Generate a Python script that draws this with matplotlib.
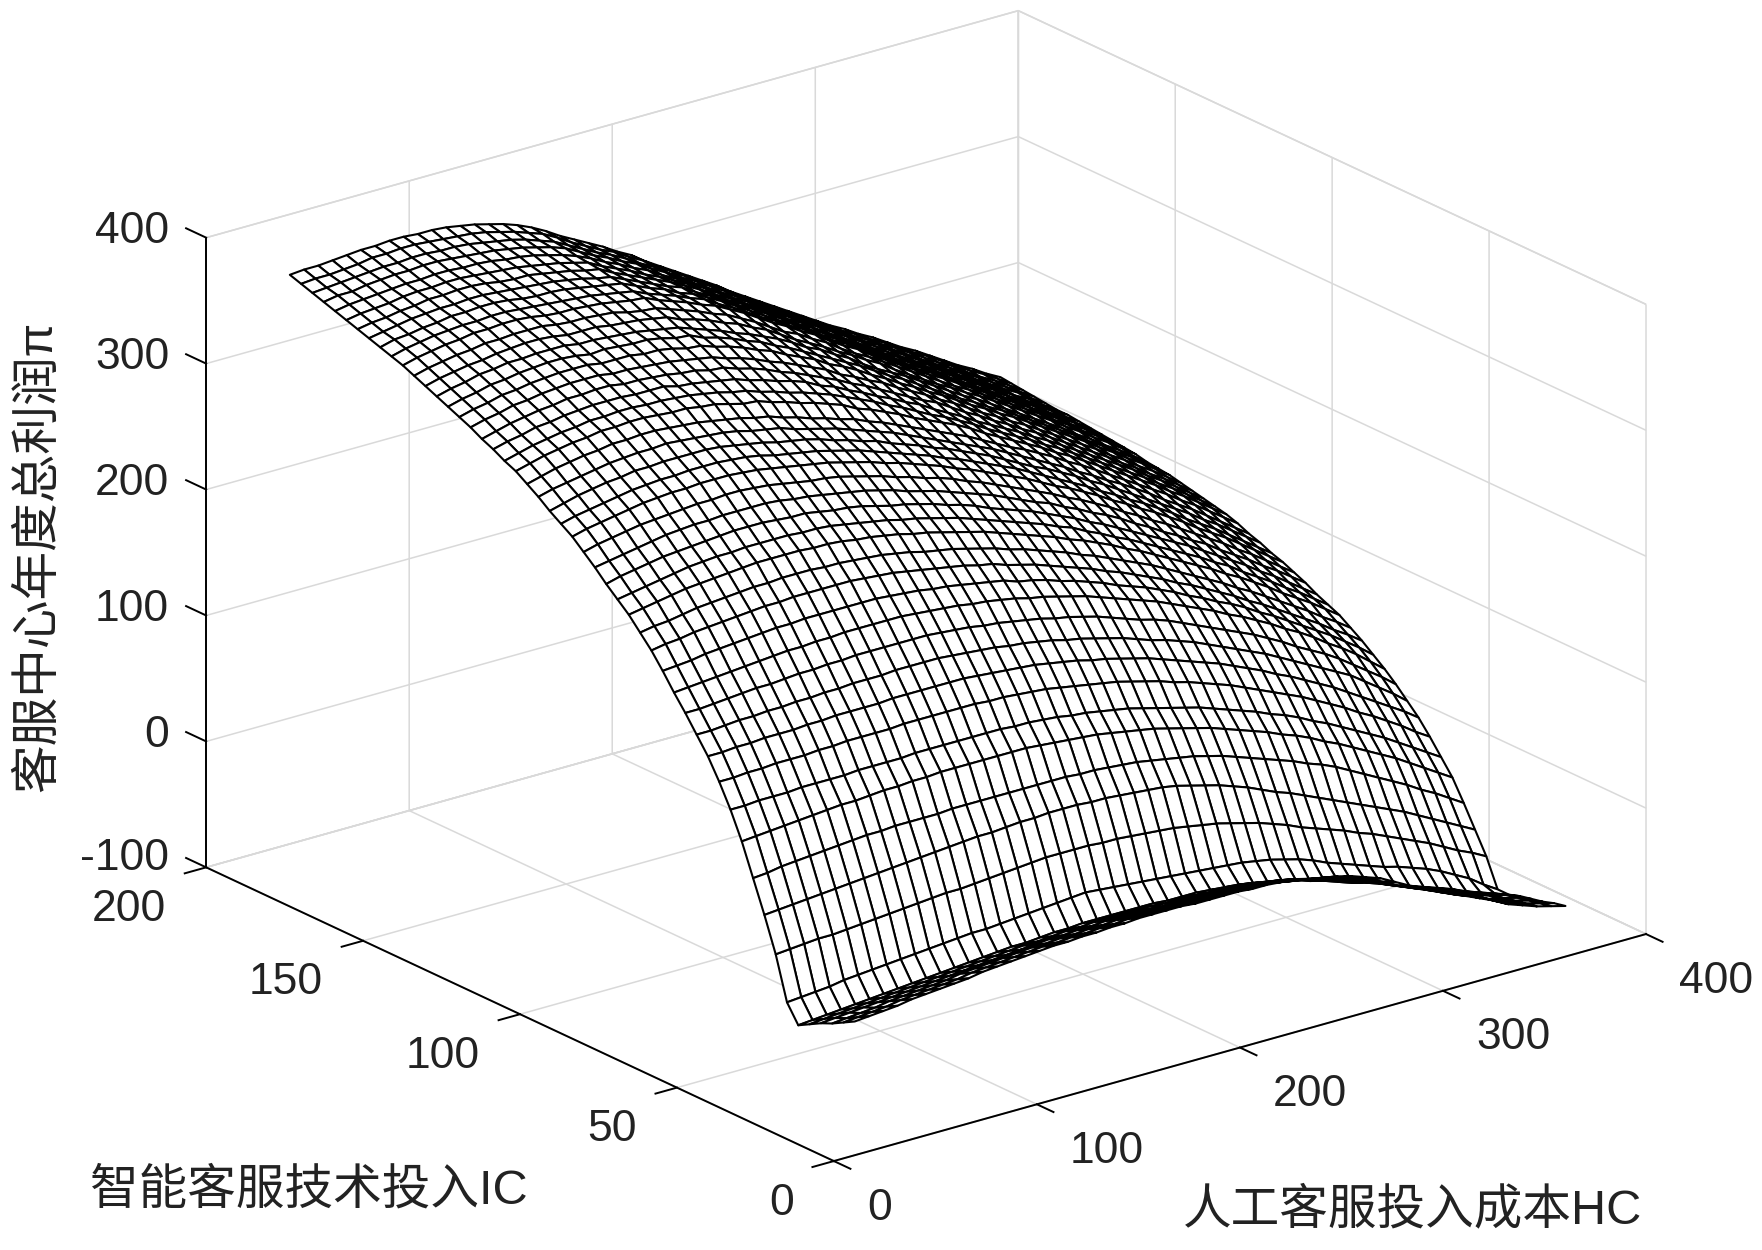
import numpy as np
import matplotlib
matplotlib.use('Agg')
import matplotlib.pyplot as plt
from mpl_toolkits.mplot3d import proj3d

plt.rcParams['font.family'] = ['Liberation Sans', 'Noto Sans CJK SC']

hc_ticks = [0, 100, 200, 300, 400]
ic_ticks = [0, 50, 100, 150, 200]
z_ticks = [-100, 0, 100, 200, 300, 400]

hc = [42, 49, 56, 63, 70, 77, 84, 91, 98, 105, 112, 119, 126, 133, 140, 147, 154, 161, 168, 175, 182, 189, 196, 203, 210, 217,
      224, 231, 238, 245, 252, 259, 266, 273, 280, 287, 294, 301, 308, 315, 322, 329, 336, 343, 350, 357, 364, 371, 378, 385, 392]
ic = [20.5, 24.1, 27.7, 31.3, 34.9, 38.5, 42.1, 45.7, 49.3, 52.9, 56.5, 60.1, 63.7, 67.3, 70.9, 74.5, 78.1, 81.7, 85.3, 88.9,
      92.5, 96.1, 99.7, 103.3, 106.9, 110.5, 114.1, 117.7, 121.3, 124.9, 128.5, 132.1, 135.7, 139.3, 142.9, 146.5, 150.1, 153.7,
      157.3, 160.9, 164.5, 168.1, 171.7, 175.3, 178.9, 182.5, 186.1, 189.7, 193.3, 196.9, 200.5]

# one row per ic value, one column per hc value
profit = [
    [-32,-31,-30,-29,-27,-26,-25,-24,-23,-21,-20,-19,-18,-17,-16,-16,-15,-15,-14,-14,-13,-13,-13,-13,-14,-14,-14,-14,-15,-15,-16,-18,-20,-22,-24,-27,-31,-35,-41,-47,-52,-58,-63,-68,-73,-78,-84,-88,-92,-95,-98],
    [-37,-36,-35,-34,-32,-31,-30,-29,-28,-26,-25,-24,-23,-22,-21,-21,-20,-20,-19,-19,-18,-18,-18,-18,-19,-19,-19,-19,-20,-20,-21,-23,-25,-27,-29,-32,-36,-40,-45,-51,-55,-61,-66,-71,-75,-80,-86,-90,-94,-97,-100],
    [-42,-41,-40,-39,-37,-36,-35,-34,-33,-31,-30,-29,-28,-27,-26,-26,-25,-25,-24,-24,-23,-23,-23,-23,-24,-24,-24,-24,-25,-25,-26,-28,-30,-32,-34,-37,-41,-44,-49,-54,-59,-64,-68,-73,-78,-83,-88,-92,-96,-99,-103],
    [-46,-45,-44,-43,-42,-41,-40,-39,-38,-37,-36,-35,-34,-33,-32,-31,-30,-30,-29,-29,-28,-28,-28,-28,-29,-29,-29,-29,-30,-30,-31,-33,-35,-37,-39,-42,-46,-49,-53,-57,-62,-67,-71,-76,-80,-84,-89,-93,-98,-101,-105],
    [-51,-50,-49,-48,-47,-46,-45,-44,-43,-42,-41,-40,-39,-38,-37,-36,-36,-35,-34,-34,-33,-33,-33,-33,-33,-34,-34,-34,-35,-35,-36,-37,-39,-41,-43,-46,-50,-53,-57,-61,-65,-70,-74,-78,-82,-86,-91,-95,-100,-103,-107],
    [-56,-55,-54,-53,-52,-51,-50,-49,-48,-47,-46,-45,-44,-43,-42,-41,-41,-40,-39,-39,-38,-38,-38,-38,-38,-38,-39,-39,-39,-40,-41,-42,-44,-46,-48,-51,-55,-58,-62,-66,-69,-73,-77,-81,-85,-89,-93,-98,-102,-106,-110],
    [-42,-41,-40,-39,-37,-36,-35,-34,-33,-32,-31,-30,-29,-28,-28,-27,-26,-25,-24,-23,-22,-21,-22,-23,-24,-25,-26,-27,-28,-29,-30,-31,-32,-34,-36,-39,-42,-46,-51,-55,-59,-63,-67,-70,-74,-78,-83,-89,-95,-103,-110],
    [-8,-7,-6,-5,-5,-4,-3,-2,-1,0,1,2,3,3,4,5,6,7,8,9,9,9,9,8,8,7,6,5,4,2,0,-2,-5,-8,-11,-15,-19,-24,-28,-32,-36,-41,-45,-50,-55,-60,-65,-71,-77,-82,-88],
    [19,20,21,22,23,24,25,26,27,28,29,30,31,32,33,34,34,35,36,36,37,37,37,36,36,35,34,33,32,30,27,24,21,17,13,8,3,-1,-6,-11,-16,-21,-26,-31,-36,-41,-47,-53,-59,-65,-71],
    [44,45,47,48,49,50,51,52,53,53,54,54,54,54,55,55,55,55,55,55,55,55,55,54,54,53,52,51,49,47,45,43,40,37,33,29,25,21,17,12,8,3,-3,-9,-15,-21,-27,-34,-40,-47,-54],
    [69,70,71,72,73,74,75,76,76,77,78,78,79,79,80,80,80,80,80,80,80,79,78,77,76,75,73,71,69,67,64,61,58,55,51,47,43,39,34,30,25,19,14,8,2,-4,-10,-17,-24,-31,-38],
    [90,90,91,91,91,92,92,92,92,93,93,93,93,94,94,94,94,94,94,94,93,93,92,91,89,88,86,84,82,79,76,73,70,67,63,59,55,51,46,42,37,31,26,20,14,8,2,-5,-12,-19,-26],
    [108,108,109,109,110,110,110,111,111,112,112,112,112,113,113,113,113,113,113,112,112,111,110,109,107,105,103,101,99,96,93,90,86,83,79,75,71,66,61,56,51,46,40,34,28,21,15,8,1,-7,-14],
    [124,124,125,125,126,126,126,127,127,128,128,128,128,129,129,129,129,129,129,128,127,126,125,124,122,120,118,115,113,110,107,104,100,96,92,88,84,79,74,69,63,58,52,46,40,33,26,19,12,5,-3],
    [137,137,138,139,139,140,140,141,141,142,142,143,143,143,144,144,144,144,143,142,141,140,138,137,135,133,130,128,125,122,119,115,111,108,104,100,95,90,85,80,75,69,63,57,51,45,39,31,23,15,6],
    [150,150,151,152,153,154,154,155,156,156,157,157,158,158,158,158,158,158,157,156,155,153,152,150,148,146,143,141,138,135,131,127,123,120,116,111,106,101,96,91,86,80,74,67,61,55,48,40,32,24,15],
    [162,163,164,165,166,167,168,169,170,170,171,171,172,172,172,172,172,171,170,169,168,166,165,163,161,158,156,153,150,147,143,139,135,131,127,122,117,112,107,101,96,90,84,77,71,64,56,49,41,32,23],
    [175,176,177,179,180,181,182,183,184,184,185,185,185,185,185,185,184,183,182,180,179,177,175,173,171,167,165,162,158,155,151,147,142,138,134,129,124,118,113,107,102,96,89,83,76,69,62,55,47,39,30],
    [187,189,190,192,193,194,195,196,197,197,198,198,198,198,198,197,196,195,193,191,189,187,185,182,180,176,173,170,166,162,158,154,149,145,140,135,130,124,119,113,107,101,94,88,81,74,67,60,52,45,37],
    [197,199,200,202,204,205,206,207,208,208,209,209,209,208,208,207,206,205,203,201,198,196,194,191,188,185,181,178,174,170,166,161,157,152,147,142,137,131,125,119,113,107,100,94,87,80,73,66,58,51,43],
    [207,209,211,213,215,216,217,218,219,220,220,220,220,219,219,218,216,215,213,211,208,206,203,200,197,194,190,186,182,178,174,169,165,160,155,149,144,138,132,126,120,114,107,101,94,87,79,72,65,57,49],
    [215,217,219,221,223,225,226,227,227,228,228,228,228,227,227,226,224,222,220,218,215,213,210,207,204,200,196,192,188,184,180,175,171,165,160,154,149,143,137,131,125,119,112,106,98,91,84,76,69,61,53],
    [223,226,228,230,232,233,234,235,236,237,237,237,236,235,235,233,231,230,228,225,222,220,217,214,210,207,203,198,194,190,186,181,176,171,165,160,154,148,142,136,130,124,117,110,103,96,88,81,73,65,57],
    [232,234,236,238,240,242,243,244,244,245,245,245,245,244,242,241,239,237,235,233,230,227,223,220,217,213,209,205,201,196,191,186,182,176,171,165,160,154,147,141,134,128,121,115,107,100,93,85,78,70,62],
    [240,243,245,247,249,250,251,252,253,253,254,254,253,252,250,248,246,245,243,240,237,234,230,227,223,220,216,211,207,202,197,192,187,182,176,171,165,159,152,146,139,133,126,119,112,105,97,90,82,74,66],
    [248,251,253,255,257,259,260,261,261,262,262,262,261,260,258,256,254,252,250,247,244,241,237,234,230,226,222,217,213,208,203,198,193,187,181,176,170,164,157,151,144,138,131,124,116,109,102,94,86,78,70],
    [254,257,259,261,263,265,266,267,267,268,268,268,267,266,264,261,259,257,255,252,249,246,242,238,234,230,226,221,217,212,207,202,197,191,185,179,173,167,160,154,147,141,134,127,119,112,105,97,89,81,73],
    [260,263,266,268,270,271,273,273,274,274,274,274,273,271,269,267,264,262,260,257,253,250,246,243,238,234,230,225,221,216,211,206,200,194,188,183,177,171,164,158,151,144,137,130,123,116,108,101,93,85,77],
    [267,270,272,274,276,278,279,280,280,281,280,279,278,277,275,272,270,268,264,261,258,255,251,247,243,239,234,229,224,219,214,209,204,198,192,186,180,174,167,161,154,148,141,134,126,119,112,104,96,88,80],
    [273,276,279,281,283,284,286,286,287,287,286,285,284,282,280,278,275,273,269,266,262,259,255,252,247,243,238,233,228,223,218,213,207,201,195,190,184,178,171,165,158,151,144,137,130,123,115,108,100,92,84],
    [279,282,285,287,289,290,292,292,293,293,292,291,291,289,288,285,282,281,277,274,270,267,263,259,253,249,244,239,233,228,223,218,212,205,199,193,187,181,174,168,161,154,147,140,133,126,118,111,103,95,87],
    [283,286,289,291,293,294,296,296,297,297,296,296,295,294,292,290,287,285,281,278,274,271,267,263,258,253,248,242,237,231,225,220,214,208,201,195,189,183,176,170,163,156,149,142,135,128,120,113,105,97,89],
    [288,291,293,296,297,299,300,301,301,301,300,300,300,297,296,294,292,290,286,283,279,276,272,266,262,256,251,245,240,234,229,222,216,210,203,197,191,185,178,172,165,158,151,144,137,130,122,115,107,99,91],
    [292,295,298,300,302,303,305,305,306,306,304,304,303,302,300,299,296,295,291,288,284,279,275,270,265,260,254,249,243,237,231,225,220,213,206,200,193,187,180,174,167,160,153,146,139,131,124,116,109,101,93],
    [297,300,302,305,306,308,309,310,310,310,308,308,307,306,305,303,301,299,295,292,288,283,279,274,269,264,257,252,246,241,234,228,222,215,209,202,195,189,182,176,169,162,155,148,141,133,126,118,111,103,95],
    [301,304,306,309,310,312,313,314,314,314,312,312,312,310,310,308,305,304,300,297,293,288,284,278,273,268,261,256,250,243,237,230,224,217,211,204,197,191,184,178,171,164,157,150,143,135,128,120,113,105,97],
    [305,308,310,313,314,316,317,318,318,317,315,316,315,314,314,312,309,308,303,300,296,291,287,281,276,270,264,258,252,246,239,232,226,219,212,205,198,192,185,179,172,165,158,151,144,136,129,121,114,106,98],
    [309,312,314,317,318,320,320,321,321,321,319,319,318,317,316,314,312,310,306,302,298,293,289,284,279,273,266,261,254,248,240,233,227,221,214,207,200,193,187,180,173,166,159,152,145,137,130,122,115,107,99],
    [313,316,318,320,321,323,324,325,325,324,322,322,322,320,319,318,316,314,309,306,302,297,293,287,282,275,268,262,256,249,243,236,230,222,215,208,201,195,188,182,175,168,161,154,147,139,132,124,117,109,101],
    [317,320,322,324,325,327,327,328,328,328,326,325,325,324,323,320,318,317,313,309,305,300,296,290,284,277,270,265,258,252,244,237,231,224,217,210,203,196,189,183,176,169,162,155,148,140,133,125,118,110,102],
    [321,324,326,328,329,331,331,332,332,331,329,328,328,327,326,324,322,321,316,312,308,303,299,293,287,280,273,267,260,254,246,239,233,225,218,211,204,197,191,184,177,170,163,156,149,141,134,126,119,111,103],
    [324,327,329,331,332,333,333,334,334,333,332,331,330,329,328,326,324,322,317,313,309,304,300,293,287,280,273,267,260,254,246,239,233,225,218,211,204,197,191,184,177,170,163,156,149,141,134,127,120,112,104],
    [327,330,331,333,334,336,336,337,337,336,334,333,333,332,330,328,326,324,319,314,310,304,300,294,288,281,274,267,260,254,246,239,233,225,218,211,204,197,191,184,177,170,163,156,150,142,135,127,120,112,105],
    [330,332,334,336,337,338,338,339,339,338,337,336,335,334,332,330,327,325,320,315,310,305,301,294,288,281,274,268,261,254,247,239,233,225,218,211,204,197,191,184,177,171,164,157,150,142,135,128,121,113,106],
    [333,335,336,338,339,341,341,342,342,341,339,338,338,336,334,332,329,327,321,316,311,306,301,295,289,281,274,268,261,254,247,239,233,225,218,211,204,197,191,184,177,171,164,157,150,143,136,128,121,114,107],
    [336,338,339,340,342,343,343,344,344,343,342,341,340,338,336,334,331,328,322,317,312,306,301,295,289,281,274,268,261,254,247,239,233,225,218,211,204,197,191,184,177,171,164,157,150,143,136,128,122,114,107],
    [339,341,342,343,344,345,345,346,346,345,345,344,342,341,339,336,333,329,324,318,313,307,302,295,289,282,275,268,261,255,247,240,233,226,219,212,205,198,191,185,178,171,164,157,151,143,136,129,123,115,108],
    [342,344,344,346,347,348,348,349,349,348,347,346,345,343,341,338,335,331,325,319,314,308,303,296,290,282,275,268,261,255,247,240,233,226,219,212,205,198,191,185,178,171,164,157,151,144,137,130,123,116,109],
    [345,346,347,348,349,350,350,351,351,350,350,349,347,345,343,340,336,332,326,320,314,309,303,296,290,282,275,269,262,255,248,240,233,226,219,212,205,198,191,185,178,172,165,158,151,145,137,130,124,117,110],
    [348,349,349,350,351,353,353,354,354,353,352,351,350,348,345,342,338,334,328,321,315,309,304,297,291,283,276,269,262,255,248,240,233,226,219,212,205,198,191,185,178,172,165,158,152,145,138,131,125,118,111],
    [351,352,352,353,354,355,355,356,356,355,355,354,352,350,347,344,340,335,329,322,316,310,304,297,291,283,276,269,262,255,248,240,233,226,219,212,205,198,191,185,178,172,165,158,152,145,138,131,125,118,112],
]

fig = plt.figure(figsize=(17.62, 12.5), dpi=100)
ax = fig.add_axes([0.0160, 0.0178, 1, 1], projection='3d')
ax.set_proj_type('ortho')
ax.view_init(elev=21.2, azim=-127.7)
ax.set_box_aspect((1, 1, 0.658), zoom=1.2434)
ax.set_xlim(0, 400)
ax.set_ylim(0, 200)
ax.set_zlim(-100, 400)

X, Y = np.meshgrid(hc, ic)
surf = ax.plot_surface(X, Y, np.array(profit), color='white', edgecolor='black', linewidth=1.5, shade=False,
                       rstride=1, cstride=1)
surf.set_clip_on(False)

ax.set_xticks(hc_ticks)
ax.set_yticks(ic_ticks)
ax.set_zticks(z_ticks)
for axis in (ax.xaxis, ax.yaxis, ax.zaxis):
    axis.set_pane_color((1, 1, 1, 1))
    axis.pane.set_edgecolor('#d9d9d9')
    axis.pane.set_linewidth(1.1)
    axis.line.set_color('black')
    axis.line.set_linewidth(1.4)
    axis._axinfo['grid']['color'] = '#d9d9d9'
    axis._axinfo['grid']['linewidth'] = 1.1
    axis._axinfo['tick']['inward_factor'] = 0.33
    axis._axinfo['tick']['outward_factor'] = 0
    axis._axinfo['tick']['linewidth'] = {True: 1.4, False: 1}
    axis._axinfo['tick']['color'] = 'black'
# z ticks run along the IC direction and point away from the box
ax.zaxis._get_tickdir = lambda pos: 1
ax.zaxis._axinfo['tick']['inward_factor'] = 0
ax.zaxis._axinfo['tick']['outward_factor'] = 0.4
ax.set_xticklabels([])
ax.set_yticklabels([])
ax.set_zticklabels([])


def tick_label(text, x, y, z, dx, dy, ha):
    xs, ys, _ = proj3d.proj_transform(x, y, z, ax.get_proj())
    ax.annotate(text, (xs, ys), xytext=(dx, dy), textcoords='offset pixels', ha=ha, va='center',
                fontsize=32, color='#222222', annotation_clip=False)


for v in hc_ticks:
    tick_label(str(v), v, 0, -100, 33, -47, 'left')
for v in ic_ticks:
    tick_label(str(v), 0, v, -100, -40, -42, 'right')
for v in z_ticks:
    tick_label(str(v), 0, 200, v, -37, 6 + (3 if v == -100 else 0), 'right')

fig.text(90 / 1762, 1 - 1191 / 1250, '智能客服技术投入IC', fontsize=35, va='center', ha='left', color='#222222')
fig.text(1183 / 1762, 1 - 1210 / 1250, '人工客服投入成本HC', fontsize=35, va='center', ha='left', color='#222222')
fig.text(39 / 1762, 1 - 556 / 1250, '客服中心年度总利润π', fontsize=35, va='center', ha='center', rotation=90, color='#222222')

fig.savefig('out.png')
